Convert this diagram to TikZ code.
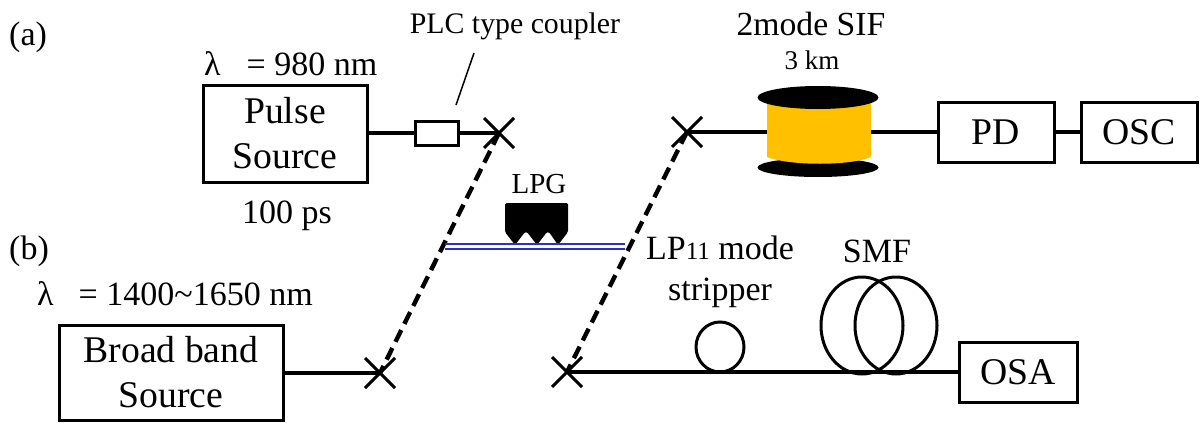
\documentclass[tikz,border=0pt]{standalone}
\usetikzlibrary{shapes.geometric}
\usepackage{fontspec}
\setmainfont{Liberation Serif}
\definecolor{spool}{RGB}{255,192,0}
\definecolor{fib}{RGB}{40,50,190}
\tikzset{
  x=1pt,y=-1pt,
  boxn/.style={draw,line width=3pt,inner sep=0pt,align=center,font=\fontsize{37.7}{45}\selectfont},
  lbl/.style={inner sep=0pt,anchor=base,font=\fontsize{34}{40}\selectfont},
  wire/.style={line width=3.6pt},
  dashline/.style={line width=4.4pt,dash pattern=on 13pt off 7pt},
  xmark/.style={line width=3pt},
  loopn/.style={ellipse,draw,line width=3pt,inner sep=0pt}
}
\newcommand{\xm}[2]{\draw[xmark] (#1-15,#2-15)--(#1+15,#2+15) (#1-15,#2+15)--(#1+15,#2-15);}
\begin{document}
\begin{tikzpicture}
\useasboundingbox (0,0) rectangle (1200,423);
\node[boxn,minimum width=164pt,minimum height=97pt] (ps) at (285,133.5) {Pulse\\Source};
\node[boxn,minimum width=43pt,minimum height=24pt] (cp) at (436.5,133) {};
\coordinate (xa) at (499,133);
\coordinate (xb) at (687,132);
\coordinate (xc) at (380,373);
\coordinate (xd) at (567,372);
\draw[wire] (ps.east|-cp) -- (cp.west);
\draw[wire] (cp.east) -- (xa);
\xm{499}{133}
\xm{687}{132}
\xm{380}{373}
\xm{567}{372}
\draw[dashline] (xa) -- (xc);
\draw[dashline] (xb) -- (xd);
% spool
\fill[black] (818,167.5) ellipse (60.5 and 9.5);
\fill[spool] (767,100) -- (871,100) -- (871,157) .. controls (850,166) and (790,166) .. (767,157) -- cycle;
\fill[black] (818,97.5) ellipse (60.5 and 11.5);
\coordinate (sl) at (767,132);
\coordinate (sr) at (871,132);
\draw[wire] (xb) -- (sl);
\node[boxn,minimum width=116pt,minimum height=60pt] (pd) at (996,132) {PD};
\node[boxn,minimum width=116pt,minimum height=60pt] (osc) at (1139,132) {OSC};
\draw[wire] (sr) -- (pd.west);
\draw[wire] (pd) -- (osc);
\node[boxn,minimum width=224pt,minimum height=95pt] (bb) at (171,372.5) {Broad band\\Source};
\draw[wire] (bb.east|-xc) -- (xc);
\node[boxn,minimum width=118pt,minimum height=60pt] (osa) at (1018,372) {OSA};
\draw[wire] (xd) -- (osa.west);
\node[loopn,minimum width=48pt,minimum height=50pt] (st) at (720,347) {};
\node[loopn,minimum width=82pt,minimum height=97pt] (s1) at (862,325.5) {};
\node[loopn,minimum width=82pt,minimum height=97pt] (s2) at (896,325.5) {};
% LPG
\fill[black,rounded corners=1.5pt] (505,203) -- (568,203) -- (568,232) -- (558,245) -- (549,232) -- (547,232) -- (537,245) -- (527,232) -- (525,232) -- (515,245) -- (505,232) -- cycle;
\coordinate (fa) at (445,244);
\coordinate (fb) at (625,244);
\coordinate (fc) at (445,249);
\coordinate (fd) at (625,249);
\draw[line width=2.2pt,fib] (fa) -- (fb) (fc) -- (fd);
% text
\node[lbl,anchor=base west] (a) at (9,45) {(a)};
\node[lbl,anchor=base west] (b) at (9,259) {(b)};
\node[lbl,font=\fontsize{29.8}{34}\selectfont] (plc) at (515,34) {PLC type coupler};
\coordinate (pe) at (474,53);
\coordinate (pf) at (456,105);
\draw[line width=1.5pt] (pe) -- (pf);
\node[lbl,anchor=base west] (l1) at (204,75) {λ\hspace{26pt}= 980 nm};
\node[lbl] (ps2) at (287,223) {100 ps};
\node[lbl,anchor=base west] (l2) at (37,305) {λ\hspace{25pt}= 1400\textasciitilde1650 nm};
\node[lbl,font=\fontsize{33.7}{38}\selectfont] (sif) at (811,35) {2mode SIF};
\node[lbl,font=\fontsize{27}{30}\selectfont] (km) at (812,69) {3 km};
\node[lbl,font=\fontsize{29}{34}\selectfont] (lpg) at (539,193) {LPG};
\node[lbl] (lp) at (720,259) {LP{\fontsize{25}{28}\selectfont 11} mode};
\node[lbl] (strip) at (720,300) {stripper};
\node[lbl] (smf) at (877,262) {SMF};
\end{tikzpicture}
\end{document}
